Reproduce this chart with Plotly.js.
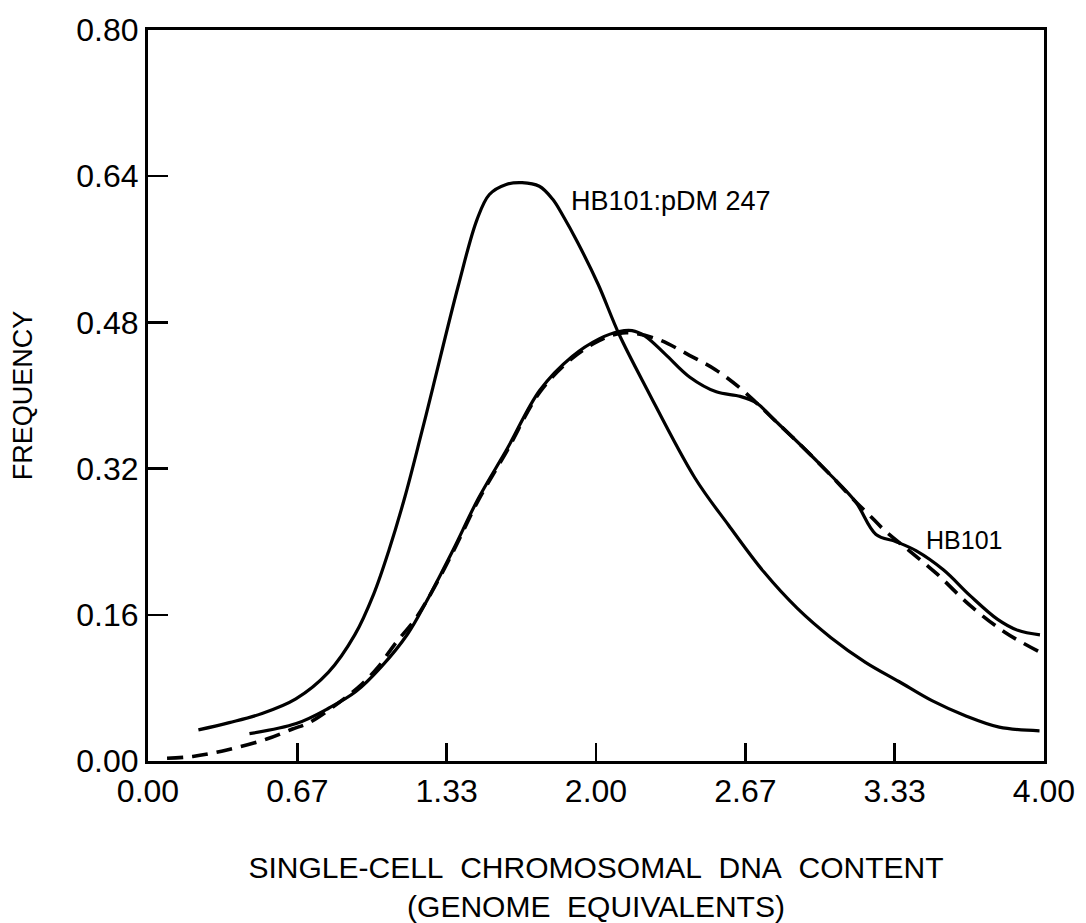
<!DOCTYPE html>
<html>
<head>
<meta charset="utf-8">
<script src="https://cdn.plot.ly/plotly-3.0.1.min.js"></script>
<style>html,body{margin:0;padding:0;background:#fff;}#chart{width:1086px;height:923px;}</style>
</head>
<body>
<div id="chart"></div>
<script>
// HB101:pDM 247 (solid)
const pdmX = [0.225,0.363,0.509,0.660,0.805,0.923,1.008,1.076,1.148,1.218,1.272,1.384,1.468,1.524,1.599,1.670,1.747,1.806,1.852,1.917,2.009,2.103,2.225,2.441,2.592,2.749,2.899,3.049,3.203,3.352,3.500,3.654,3.800,3.980];
const pdmY = [0.034,0.042,0.052,0.068,0.097,0.138,0.183,0.231,0.290,0.356,0.409,0.519,0.592,0.620,0.631,0.633,0.629,0.615,0.597,0.568,0.522,0.467,0.408,0.310,0.258,0.207,0.167,0.135,0.108,0.087,0.066,0.049,0.037,0.033];

// HB101 (solid, measured)
const hbX = [0.453,0.662,0.808,0.928,1.041,1.159,1.246,1.362,1.474,1.604,1.750,1.895,2.014,2.103,2.161,2.219,2.310,2.419,2.537,2.644,2.716,2.793,2.917,3.035,3.158,3.250,3.340,3.430,3.552,3.670,3.793,3.883,3.982];
const hbY = [0.030,0.041,0.058,0.076,0.103,0.139,0.176,0.231,0.287,0.342,0.406,0.443,0.462,0.470,0.471,0.465,0.445,0.420,0.404,0.399,0.392,0.374,0.345,0.316,0.284,0.248,0.240,0.230,0.209,0.181,0.155,0.143,0.138];

// HB101 (dashed, fitted)
const fitX = [0.085,0.200,0.352,0.530,0.645,0.720,0.853,0.954,1.028,1.102,1.189,1.246,1.362,1.474,1.604,1.750,1.895,2.014,2.103,2.170,2.282,2.417,2.535,2.644,2.716,2.793,2.917,3.035,3.158,3.217,3.294,3.399,3.521,3.671,3.825,3.975];
const fitY = [0.003,0.005,0.012,0.024,0.035,0.042,0.064,0.084,0.103,0.128,0.154,0.176,0.229,0.285,0.340,0.404,0.441,0.460,0.468,0.468,0.461,0.444,0.428,0.408,0.392,0.374,0.345,0.316,0.284,0.270,0.251,0.230,0.205,0.170,0.141,0.120];

const xTickVals = [0, 0.6667, 1.3333, 2, 2.6667, 3.3333, 4];
const xTickText = ["0.00","0.67","1.33","2.00","2.67","3.33","4.00"];
const yTickVals = [0, 0.16, 0.32, 0.48, 0.64, 0.80];
const yTickText = ["0.00","0.16","0.32","0.48","0.64","0.80"];

const FONT = "Liberation Sans Narrow, Liberation Sans, Arial, sans-serif";
const SP = "\u00A0\u00A0";

const traces = [
  {x: pdmX, y: pdmY, mode: 'lines', line: {color: '#000', width: 3.2, shape: 'spline', smoothing: 1}, hoverinfo: 'skip'},
  {x: hbX, y: hbY, mode: 'lines', line: {color: '#000', width: 3.2, shape: 'spline', smoothing: 1}, hoverinfo: 'skip'},
  {x: fitX, y: fitY, mode: 'lines', line: {color: '#000', width: 3.6, dash: '16px,9px', shape: 'spline', smoothing: 1}, hoverinfo: 'skip'}
];

const layout = {
  width: 1086, height: 923,
  margin: {l: 148, r: 42, t: 30, b: 162},
  paper_bgcolor: '#fff', plot_bgcolor: '#fff',
  showlegend: false,
  font: {family: FONT, color: '#000'},
  xaxis: {
    range: [0, 4], tickvals: xTickVals, ticktext: xTickText,
    ticks: 'inside', ticklen: 18, tickwidth: 2.5, tickcolor: '#000',
    showline: true, linecolor: '#000', linewidth: 3, mirror: true,
    showgrid: false, zeroline: false,
    tickfont: {size: 32, family: FONT},
    title: {text: 'SINGLE-CELL' + SP + 'CHROMOSOMAL' + SP + 'DNA' + SP + 'CONTENT<br>(GENOME' + SP + 'EQUIVALENTS)', font: {size: 30, family: FONT}, standoff: 58}
  },
  yaxis: {
    range: [0, 0.8], tickvals: yTickVals, ticktext: yTickText,
    ticks: 'inside', ticklen: 20, tickwidth: 2.5, tickcolor: '#000',
    showline: true, linecolor: '#000', linewidth: 3, mirror: true,
    showgrid: false, zeroline: false,
    tickfont: {size: 32, family: FONT},
    title: {text: 'FREQUENCY', font: {size: 27, family: FONT}, standoff: 36}
  },
  annotations: [
    {x: 1.88, y: 0.613, xref: 'x', yref: 'y', text: 'HB101:pDM 247', showarrow: false, xanchor: 'left', yanchor: 'middle', font: {size: 27, family: FONT}},
    {x: 3.465, y: 0.242, xref: 'x', yref: 'y', text: 'HB101', showarrow: false, xanchor: 'left', yanchor: 'middle', font: {size: 25, family: FONT}}
  ]
};

Plotly.newPlot('chart', traces, layout, {staticPlot: true, displayModeBar: false});
</script>
</body>
</html>
